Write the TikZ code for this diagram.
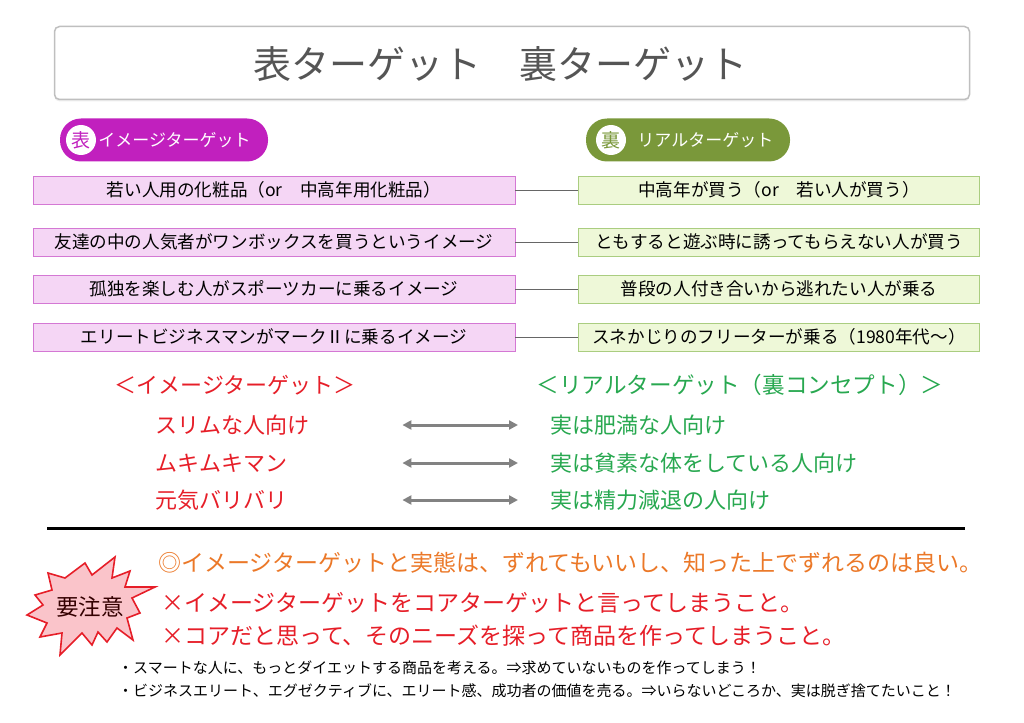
\documentclass[tikz,border=0pt]{standalone}
\usepackage{fontspec}
\setmainfont{Noto Sans CJK JP}
\usetikzlibrary{positioning,arrows.meta,shadows}

\definecolor{titlegray}{RGB}{85,85,85}
\definecolor{omotecol}{RGB}{193,32,190}
\definecolor{uracol}{RGB}{122,152,58}
\definecolor{omotefill}{RGB}{245,214,245}
\definecolor{omoteline}{RGB}{212,120,212}
\definecolor{urafill}{RGB}{238,248,216}
\definecolor{uraline}{RGB}{170,205,128}
\definecolor{imgred}{RGB}{230,30,40}
\definecolor{realgreen}{RGB}{40,168,80}
\definecolor{noteorange}{RGB}{235,120,40}
\definecolor{arrowgray}{RGB}{130,130,130}
\definecolor{burstfill}{RGB}{250,196,202}

\tikzset{
  titlebox/.style={draw=black!25, line width=1.5pt, fill=white, rounded corners=5pt,
    drop shadow={shadow xshift=0pt, shadow yshift=-2pt, opacity=0.15},
    minimum width=915pt, minimum height=73pt},
  titletext/.style={text=titlegray, inner sep=0pt, font=\fontsize{38}{40}\selectfont},
  pill/.style={rounded corners=21pt, minimum width=#1, minimum height=43pt, inner sep=0pt},
  pillmark/.style={circle, fill=white, minimum size=30pt, inner sep=0pt,
    font=\fontsize{19}{19}\selectfont},
  pilltext/.style={text=white, inner sep=0pt, font=\fontsize{17}{17}\selectfont},
  omotebox/.style={draw=omoteline, fill=omotefill, minimum width=482pt, minimum height=28pt,
    inner sep=0pt, font=\fontsize{17.6}{18}\selectfont},
  urabox/.style={draw=uraline, fill=urafill, minimum width=401pt, minimum height=28pt,
    inner sep=0pt, font=\fontsize{17.6}{18}\selectfont},
  link/.style={draw=black!60, line width=0.8pt},
  imgitem/.style={anchor=west, inner sep=0pt, text width=235pt, text=imgred,
    font=\fontsize{22}{22}\selectfont},
  realitem/.style={anchor=west, inner sep=0pt, text=realgreen,
    font=\fontsize{22}{22}\selectfont},
  pairarrow/.style={{Triangle[length=9pt,width=9pt]}-{Triangle[length=9pt,width=9pt]},
    draw=arrowgray, line width=3pt, shorten <=12pt, shorten >=32pt},
  burst/.style={draw=imgred, fill=burstfill, line width=1.6pt, line join=miter},
  noteline/.style={anchor=west, inner sep=0pt, font=\fontsize{23}{23}\selectfont},
  smallline/.style={anchor=west, inner sep=0pt, font=\fontsize{15}{15}\selectfont}
}

\begin{document}
\begin{tikzpicture}[x=1pt,y=-1pt]
    \useasboundingbox (0,0) rectangle (1024,722);
    % title
    \node[titlebox] (title) at (512,63) {};
    \node[titletext] (titlelabel) at (500,64) {表ターゲット　裏ターゲット};
    % badges
    \node[pill=208pt, fill=omotecol] (omote) at (164,140) {};
    \node[pillmark, text=omotecol] (omotemark) at (81,140) {表};
    \node[pilltext, right=2pt of omotemark] (omotelabel) {イメージターゲット};
    \node[pill=204pt, fill=uracol] (ura) at (688,140) {};
    \node[pillmark, text=uracol] (uramark) at (611,140) {裏};
    \node[pilltext, right=11pt of uramark] (uralabel) {リアルターゲット};
    % pairs of boxes
    \node[omotebox] (o1) at (274,190) {若い人用の化粧品（or　中高年用化粧品）};
    \node[omotebox] (o2) at (274,242) {友達の中の人気者がワンボックスを買うというイメージ};
    \node[omotebox] (o3) at (274,289) {孤独を楽しむ人がスポーツカーに乗るイメージ};
    \node[omotebox] (o4) at (274,337) {エリートビジネスマンがマークⅡに乗るイメージ};
    \node[urabox] (u1) at (779,190) {中高年が買う（or　若い人が買う）};
    \node[urabox] (u2) at (779,242) {ともすると遊ぶ時に誘ってもらえない人が買う};
    \node[urabox] (u3) at (779,289) {普段の人付き合いから逃れたい人が乗る};
    \node[urabox] (u4) at (779,337) {スネかじりのフリーターが乗る（1980年代～）};
    \foreach \i in {1,...,4}
        \draw[link] (o\i.east) -- (u\i.west);
    % image vs real
    \node[text=imgred, font=\fontsize{22}{22}\selectfont] (imghead) at (235,385) {＜イメージターゲット＞};
    \node[text=realgreen, font=\fontsize{22.6}{23}\selectfont] (realhead) at (740,385) {＜リアルターゲット（裏コンセプト）＞};
    \node[imgitem] (slim) at (155,425) {スリムな人向け};
    \node[imgitem] (muki) at (155,463) {ムキムキマン};
    \node[imgitem] (genki) at (155,500) {元気バリバリ};
    \node[realitem] (fat) at (550,425) {実は肥満な人向け};
    \node[realitem] (thin) at (550,463) {実は貧素な体をしている人向け};
    \node[realitem] (weak) at (550,500) {実は精力減退の人向け};
    \draw[pairarrow] (slim.east) -- (fat.west);
    \draw[pairarrow] (muki.east) -- (thin.west);
    \draw[pairarrow] (genki.east) -- (weak.west);
    % separator
    \draw[line width=3pt] (47,528) -- (965,528);
    % caution burst
    \draw[burst] (48,573) -- (65,578) -- (85,563) -- (92,575) -- (115,557) -- (112,578)
        -- (130,571) -- (125,587) -- (155,587) -- (132,598) -- (140,613) -- (127,618)
        -- (133,640) -- (117,628) -- (107,642) -- (98,632) -- (92,645) -- (82,633)
        -- (60,655) -- (62,633) -- (40,637) -- (47,623) -- (27,615) -- (43,605)
        -- (35,595) -- (52,590) -- cycle;
    \node[font=\fontsize{22.5}{23}\selectfont, text=black!80!red] (caution) at (90,607) {要注意};
    \node[noteline, text=noteorange] (ok) at (158,563) {◎イメージターゲットと実態は、ずれてもいいし、知った上でずれるのは良い。};
    \node[noteline, text=imgred] (ng1) at (161,603) {×イメージターゲットをコアターゲットと言ってしまうこと。};
    \node[noteline, text=imgred] (ng2) at (161,636) {×コアだと思って、そのニーズを探って商品を作ってしまうこと。};
    \node[smallline] (ex1) at (118,668) {・スマートな人に、もっとダイエットする商品を考える。⇒求めていないものを作ってしまう！};
    \node[smallline] (ex2) at (118,691) {・ビジネスエリート、エグゼクティブに、エリート感、成功者の価値を売る。⇒いらないどころか、実は脱ぎ捨てたいこと！};
\end{tikzpicture}
\end{document}
